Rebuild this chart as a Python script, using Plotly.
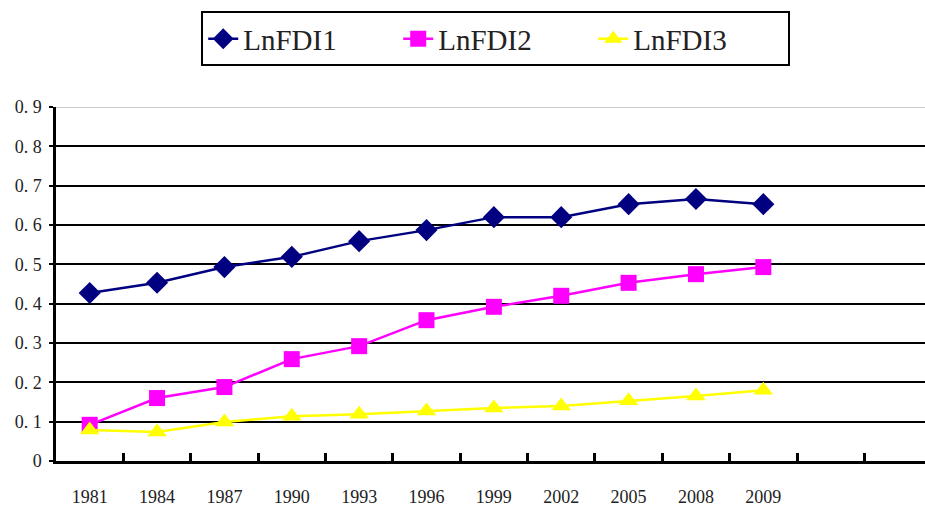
import plotly.graph_objects as go

years = ["1981", "1984", "1987", "1990", "1993", "1996", "1999", "2002", "2005", "2008", "2009"]
lnfdi1 = [0.427, 0.453, 0.493, 0.519, 0.559, 0.587, 0.620, 0.620, 0.653, 0.666, 0.653]
lnfdi2 = [0.092, 0.160, 0.188, 0.259, 0.292, 0.358, 0.392, 0.420, 0.453, 0.475, 0.493]
lnfdi3 = [0.079, 0.074, 0.099, 0.114, 0.119, 0.127, 0.135, 0.140, 0.153, 0.165, 0.180]
y_ticks = [0, 0.1, 0.2, 0.3, 0.4, 0.5, 0.6, 0.7, 0.8, 0.9]
y_labels = ["0", "0. 1", "0. 2", "0. 3", "0. 4", "0. 5", "0. 6", "0. 7", "0. 8", "0. 9"]
n_slots = 13
x_range = [-0.5, 12.4]

xpos = list(range(len(years)))
fig = go.Figure()
series = [
    ("LnFDI1", lnfdi1, "#000080", "diamond", 17),
    ("LnFDI2", lnfdi2, "#FF00FF", "square", 16),
    ("LnFDI3", lnfdi3, "#FFFF00", "triangle-up", 17),
]
for name, vals, col, sym, sz in series:
    fig.add_trace(go.Scatter(
        x=xpos, y=vals, name=name, mode="lines+markers",
        line=dict(color=col, width=2.5),
        marker=dict(symbol=sym, size=sz, color=col),
    ))

fig.add_trace(go.Scatter(x=[-0.5], y=[0], xaxis="x2", showlegend=False,
                         mode="markers", marker=dict(opacity=0), hoverinfo="skip"))

fig.update_layout(
    width=925, height=508,
    margin=dict(l=56, r=0, t=107, b=47, autoexpand=False),
    paper_bgcolor="white", plot_bgcolor="white",
    font=dict(family="Liberation Serif", color="#222"),
    xaxis=dict(
        range=x_range, automargin=False,
        tickvals=xpos, ticktext=years,
        ticks="outside", ticklen=18, tickcolor="rgba(0,0,0,0)",
        tickfont=dict(size=18, family="Liberation Serif", color="#222"),
        showgrid=False, zeroline=False,
        showline=True, linecolor="black", linewidth=2.5,
    ),
    xaxis2=dict(
        overlaying="x", side="bottom", anchor="y", automargin=False,
        range=x_range,
        tickvals=[i + 0.5 for i in range(n_slots)],
        showticklabels=False,
        ticks="inside", ticklen=8, tickwidth=2.5, tickcolor="black",
        showgrid=False, zeroline=False, showline=False,
    ),
    yaxis=dict(
        range=[0, 0.9], automargin=False,
        tickvals=y_ticks, ticktext=y_labels,
        ticks="outside", ticklen=4, tickwidth=2, tickcolor="black",
        ticklabelstandoff=4,
        tickfont=dict(size=18, family="Liberation Serif", color="#222"),
        showgrid=True, gridcolor="black", gridwidth=2,
        zeroline=False,
        showline=True, linecolor="black", linewidth=2.5,
    ),
    legend=dict(
        orientation="h", x=0.506, xanchor="center", y=1.27, yanchor="top",
        bordercolor="black", borderwidth=2, bgcolor="white",
        font=dict(size=29, family="Liberation Serif", color="#222"),
        entrywidth=150,
    ),
    showlegend=True,
)
fig.add_shape(type="line", xref="paper", yref="y", x0=0, x1=1, y0=0.9, y1=0.9,
              line=dict(color="#cccccc", width=2))

fig.write_html("out.html", config={"displayModeBar": False},
               post_script="document.body.style.margin='0';")
